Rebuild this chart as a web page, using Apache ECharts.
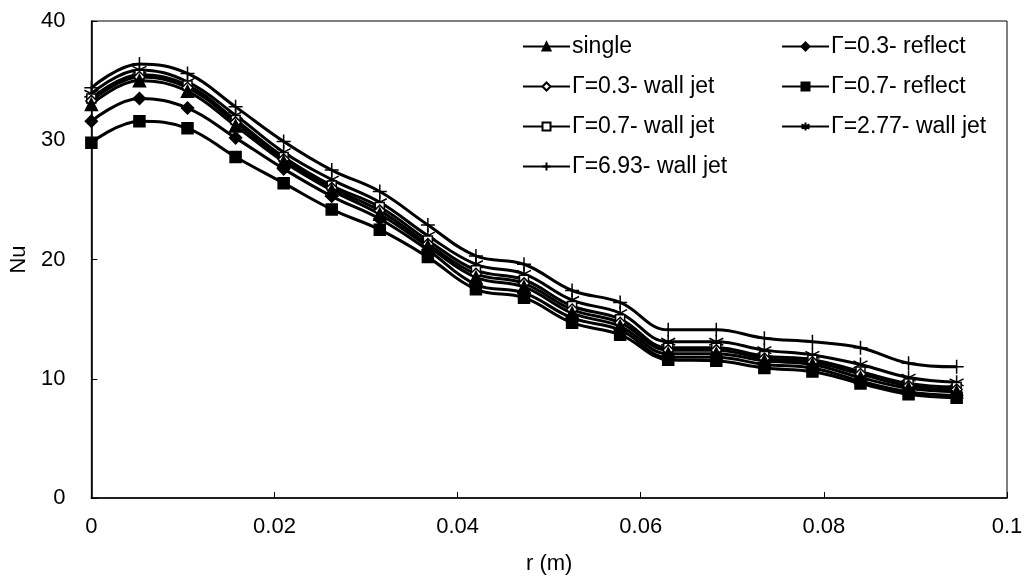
<!DOCTYPE html>
<html>
<head>
<meta charset="utf-8">
<title>Nu vs r</title>
<script src="https://cdn.jsdelivr.net/npm/echarts@6/dist/echarts.min.js"></script>
<style>
  html, body { margin: 0; padding: 0; background: #fff; }
  #myChart { width: 1026px; height: 581px; }
</style>
</head>
<body>
<div id="myChart"></div>
<script>
// radial position (m)
const r = [0, 0.00525, 0.0105, 0.01575, 0.021, 0.02625, 0.0315, 0.03675, 0.042, 0.04725,
  0.0525, 0.05775, 0.063, 0.06825, 0.0735, 0.07875, 0.084, 0.08925, 0.0945];

const single = [33.0, 35.0, 34.1, 31.2, 28.2, 25.8, 23.8, 21.1, 18.5, 17.7,
  15.5, 14.4, 12.1, 12.1, 11.5, 11.2, 10.1, 9.2, 8.9];
const g03reflect = [31.6, 33.5, 32.7, 30.2, 27.6, 25.3, 23.4, 20.8, 17.9, 17.2,
  15.1, 14.1, 11.8, 11.8, 11.2, 10.9, 9.8, 8.9, 8.6];
const g03wall = [33.3, 35.3, 34.4, 31.5, 28.4, 26.0, 24.1, 21.3, 18.8, 18.0,
  15.8, 14.7, 12.4, 12.4, 11.7, 11.4, 10.4, 9.4, 9.1];
const g07reflect = [29.8, 31.6, 31.0, 28.6, 26.4, 24.2, 22.5, 20.2, 17.5, 16.8,
  14.7, 13.7, 11.6, 11.5, 10.9, 10.6, 9.6, 8.7, 8.4];
const g07wall = [33.5, 35.5, 34.6, 31.7, 28.6, 26.2, 24.4, 21.6, 19.1, 18.3,
  16.1, 15.0, 12.6, 12.6, 11.9, 11.6, 10.6, 9.6, 9.3];
const g277wall = [33.9, 35.9, 34.9, 32.1, 29.0, 26.7, 24.8, 22.0, 19.6, 18.8,
  16.6, 15.5, 13.1, 13.1, 12.4, 12.0, 11.2, 10.1, 9.7];
const g693wall = [34.4, 36.4, 35.6, 32.8, 29.9, 27.5, 25.7, 22.9, 20.3, 19.6,
  17.4, 16.4, 14.1, 14.1, 13.4, 13.1, 12.6, 11.3, 11.0];

const names = ['single', 'Γ=0.3- reflect', 'Γ=0.3- wall jet', 'Γ=0.7- reflect',
  'Γ=0.7- wall jet', 'Γ=2.77- wall jet', 'Γ=6.93- wall jet'];

const FONT = '"Liberation Sans", Arial, sans-serif';

function pairs(ys) {
  return ys.map((y, i) => [r[i], y]);
}

// one line series, black with a marker
function makeSeries(name, ys, symbol, size, fill) {
  return {
    name: name,
    type: 'line',
    data: pairs(ys),
    smooth: 0.4,
    symbol: symbol,
    symbolSize: size,
    showAllSymbol: true,
    lineStyle: { color: '#000', width: 3 },
    itemStyle: { color: fill, borderColor: '#000', borderWidth: 1.5 },
    emphasis: { disabled: true }
  };
}

const starPath = 'path://M0,-10L0,0M-8.7,-5L8.7,5M-8.7,5L8.7,-5M0,0L0,10';
const plusPath = 'path://M0,-10L0,10M-10,0L10,0';

const legendText = { fontSize: 23, color: '#000', fontFamily: FONT, padding: [0, 0, 0, -3] };

const myChart = echarts.init(document.getElementById('myChart'));
myChart.setOption({
  animation: false,
  backgroundColor: '#fff',
  textStyle: { fontFamily: FONT },
  grid: {
    left: 91, right: 19, top: 21, bottom: 83,
    show: true, borderColor: '#000', borderWidth: 1
  },
  xAxis: {
    type: 'value',
    min: 0, max: 0.1, interval: 0.02,
    name: 'r (m)',
    nameLocation: 'middle',
    nameGap: 55,
    nameTextStyle: { fontSize: 22, color: '#000', fontFamily: FONT },
    axisLine: { lineStyle: { color: '#000', width: 1.6 } },
    axisTick: { inside: true, length: 6, lineStyle: { color: '#000' } },
    axisLabel: { fontSize: 22, color: '#000', margin: 18, fontFamily: FONT },
    splitLine: { show: false }
  },
  yAxis: {
    type: 'value',
    min: 0, max: 40, interval: 10,
    name: 'Nu',
    nameLocation: 'middle',
    nameGap: 60,
    nameRotate: 90,
    nameTextStyle: { fontSize: 22, color: '#000', fontFamily: FONT },
    axisLine: { show: true, lineStyle: { color: '#000', width: 1.6 } },
    axisTick: { show: true, inside: true, length: 6, lineStyle: { color: '#000' } },
    axisLabel: { fontSize: 22, color: '#000', margin: 26, fontFamily: FONT },
    splitLine: { show: false }
  },
  legend: [
    {
      data: [names[0], names[2], names[4], names[6]],
      orient: 'vertical',
      left: 517, top: 30,
      itemWidth: 47, itemHeight: 10, itemGap: 17,
      textStyle: legendText
    },
    {
      data: [names[1], names[3], names[5]],
      orient: 'vertical',
      left: 776, top: 30,
      itemWidth: 47, itemHeight: 10, itemGap: 17,
      textStyle: legendText
    }
  ],
  series: [
    makeSeries(names[6], g693wall, plusPath, 14, '#000'),
    makeSeries(names[5], g277wall, starPath, 14, '#000'),
    makeSeries(names[4], g07wall, 'rect', 9, '#fff'),
    makeSeries(names[2], g03wall, 'diamond', 11, '#fff'),
    makeSeries(names[0], single, 'triangle', 12, '#000'),
    makeSeries(names[1], g03reflect, 'diamond', 12, '#000'),
    makeSeries(names[3], g07reflect, 'rect', 11, '#000')
  ]
});
</script>
</body>
</html>
